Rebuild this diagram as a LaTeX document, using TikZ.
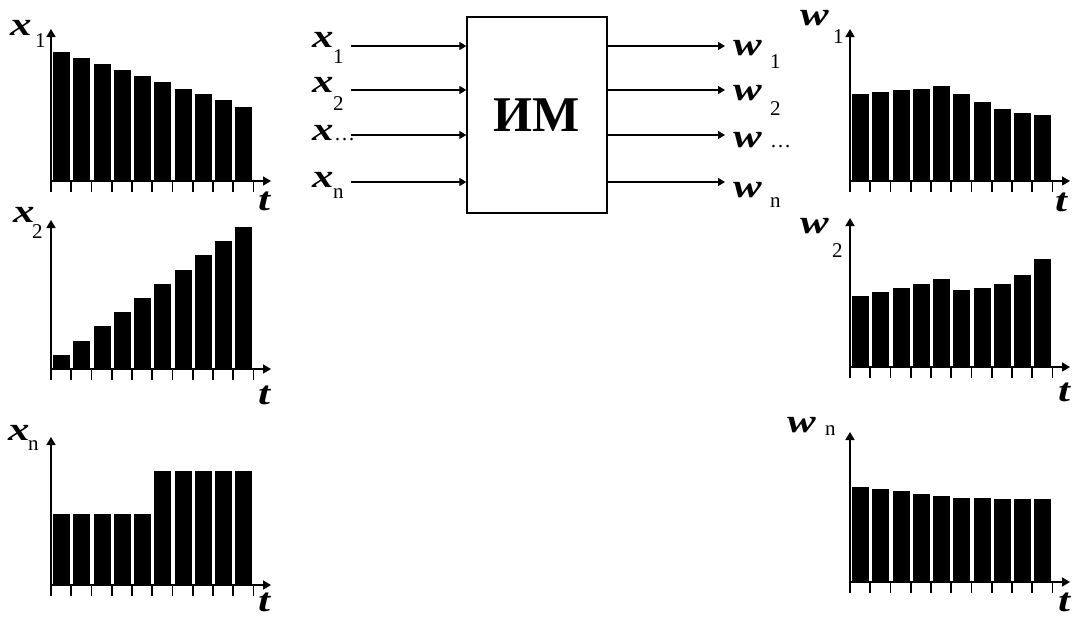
\documentclass[tikz,border=0pt]{standalone}
\usepackage{fontspec}
\setmainfont{Liberation Serif}
\newfontfamily\sigfont[FakeStretch=1.3]{Liberation Serif}
\usetikzlibrary{arrows.meta}

\begin{document}
\begin{tikzpicture}[x=1pt, y=-1pt,
    axis/.style={line width=1.6pt, -{Triangle[length=8pt, width=9pt]}},
    tick/.style={line width=1.6pt},
    feed/.style={line width=1.2pt, -{Triangle[length=7pt, width=8pt]}},
    var/.style={font=\fontsize{33}{33}\sigfont\bfseries\itshape, inner sep=0pt},
    idx/.style={font=\fontsize{21}{21}\selectfont, inner sep=0pt}]

\useasboundingbox (0,0) rectangle (1073,616);

% bar charts: origin x / baseline y / axis height / bar heights
\foreach \ox/\oy/\ax/\hs in {
    51/181/152/{129,123,117,111,105,99,92,87,81,74},
    51/369/149/{14,28,43,57,71,85,99,114,128,142},
    51/585/148/{71,71,71,71,71,114,114,114,114,114},
    850/181/152/{87,89,91,92,95,87,79,72,68,66},
    850/367/149/{71,75,79,83,88,77,79,83,92,108},
    850/582/150/{95,93,91,88,86,84,84,83,83,83}} {
  \begin{scope}[shift={(\ox,\oy)}]
    \foreach \h [count=\i from 0] in \hs {
      \fill (\i*20.25+2.2, 0) rectangle ++(16.8, -\h);
    }
    \draw[axis] (0,11) -- (0,-\ax);
    \draw[axis] (0,0) -- (220,0);
    \foreach \k in {1,...,10} {\draw[tick] (\k*20.25, 0) -- ++(0,11);}
  \end{scope}
}

% model block
\node[draw, line width=1.3pt, minimum width=140pt, minimum height=196pt,
      font=\fontsize{50}{50}\selectfont\bfseries] (im) at (537,115) {ИМ};

\foreach \j/\yy in {1/46, 2/90, 3/135, 4/182} {
  \coordinate (in\j) at (351,\yy);
  \coordinate (out\j) at (725,\yy);
  \draw[feed] (in\j) -- (in\j -| im.west);
  \draw[feed] (im.east |- out\j) -- (out\j);
}

% signal names
\foreach \n/\v/\s/\vx/\vy/\sx/\sy in {
    lx1/x/1/10/35/35/47, lx2/x/2/13/222/32/238, lxn/x/n/8/440/28/450,
    ix1/x/1/312/47/333/63, ix2/x/2/312/92/333/110,
    ixd/x/{\ldots}/312/140/334/140, ixn/x/n/312/187/333/198,
    ow1/w/1/733/55/770/68, ow2/w/2/733/100/770/115,
    owd/w/{\ldots}/733/147/770/147, own/w/n/733/197/770/207,
    rw1/w/1/800/25/833/43, rw2/w/2/800/233/832/257,
    rwn/w/n/787/432/825/435} {
  \node[var, anchor=base west] (v\n) at (\vx,\vy) {\v};
  \node[idx, anchor=base west] (s\n) at (\sx,\sy) {\s};
}

% time axes
\foreach \n/\tx/\ty in {l1/258/210, l2/258/404, l3/258/611,
                        r1/1055/211, r2/1058/401, r3/1058/611} {
  \node[var, anchor=base west] (t\n) at (\tx,\ty) {t};
}
\end{tikzpicture}
\end{document}
